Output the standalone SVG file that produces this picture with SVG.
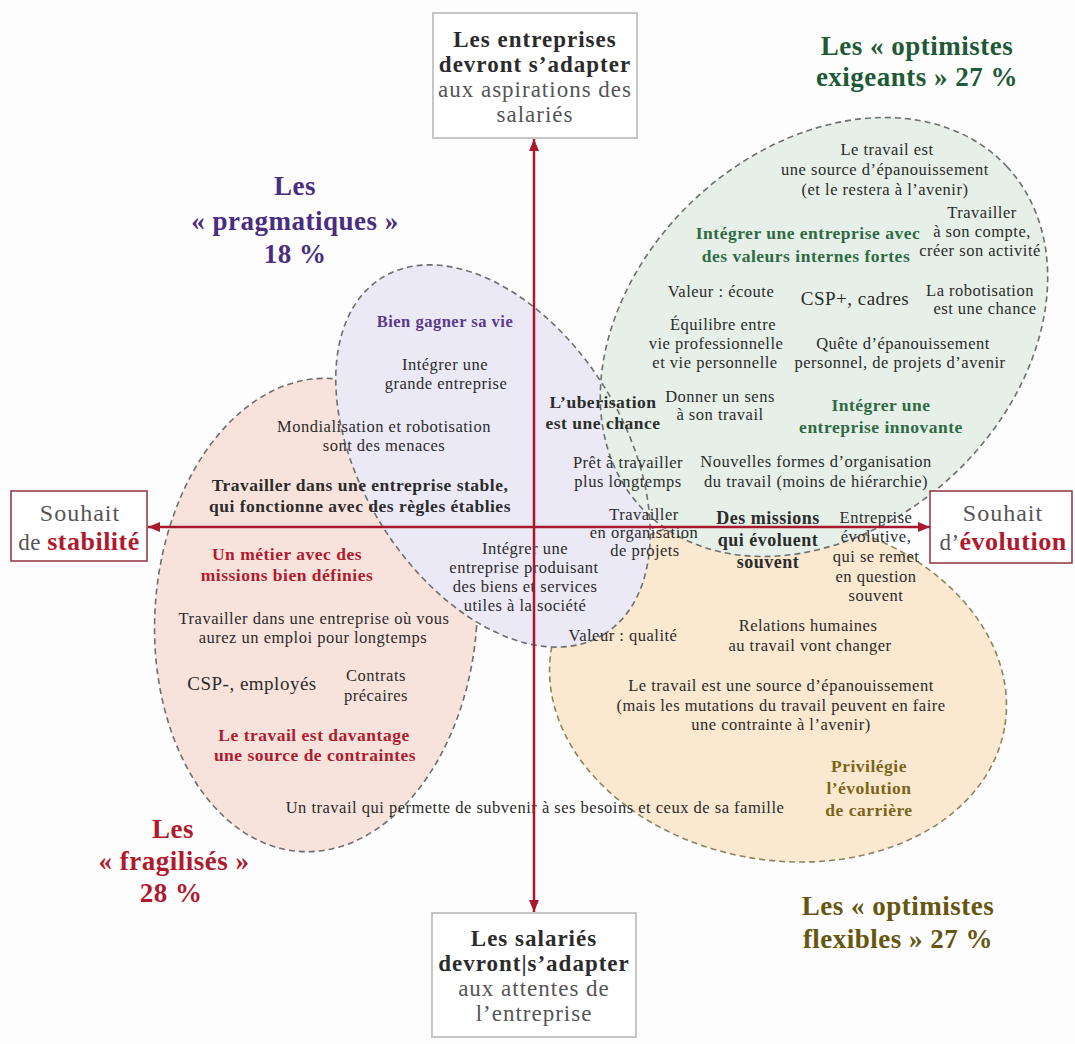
<svg xmlns="http://www.w3.org/2000/svg" width="1075" height="1044" viewBox="0 0 1075 1044">
<defs>
<style>
.t{font-family:"Liberation Serif","Times New Roman",serif;font-size:16.5px;fill:#2b2b2b;text-anchor:middle;letter-spacing:0.5px}
.b{font-weight:bold;font-size:17.5px}
.big{font-weight:bold;font-size:27px}
.bx{font-size:23px;letter-spacing:1px}
.gray{fill:#555}
.g{fill:#2f6a44}
.gt{fill:#1f5a36}
.p{fill:#5a3a8c}
.pt{fill:#4a2d80}
.r{fill:#b01a2e}
.o{fill:#7a6518}
.ot{fill:#66560f}
.dash{stroke:#6e6e6e;stroke-width:1.6;stroke-dasharray:6 4;fill:none}
.box{fill:#fff;stroke:#c6c6c6;stroke-width:2}
.rbox{fill:#fff;stroke:#8e3040;stroke-width:1.5}
.axis{stroke:#a8192e;stroke-width:2.5;fill:none;marker-start:url(#ah);marker-end:url(#ah)}
</style>
<marker id="ah" viewBox="0 0 12 10" refX="12" refY="5" markerWidth="12" markerHeight="10" markerUnits="userSpaceOnUse" orient="auto-start-reverse">
<path d="M0,0 L12,5 L0,10 z" fill="#a8192e"/>
</marker>
</defs>
<rect width="1075" height="1044" fill="#fdfdfd"/>

<g id="regions">
<g id="region-fragilises">
<ellipse cx="316" cy="615" rx="161" ry="237" transform="rotate(4 316 615)" fill="#f8e3dc"/>
<ellipse cx="316" cy="615" rx="161" ry="237" transform="rotate(4 316 615)" class="dash"/>
</g>
<g id="region-flexibles">
<ellipse cx="778" cy="688" rx="230" ry="172" transform="rotate(10 778 688)" fill="#fae8d0"/>
<ellipse cx="778" cy="688" rx="230" ry="172" transform="rotate(10 778 688)" class="dash" style="stroke:#8a8560"/>
</g>
<g id="region-pragmatiques">
<ellipse cx="493" cy="456" rx="210" ry="131" transform="rotate(58 493 456)" fill="#ebe9f6"/>
</g>
<g id="region-exigeants">
<ellipse cx="824" cy="337" rx="250" ry="189" transform="rotate(-43 824 337)" fill="#e6f0e8"/>
</g>
<ellipse cx="493" cy="456" rx="210" ry="131" transform="rotate(58 493 456)" class="dash"/>
<ellipse cx="824" cy="337" rx="250" ry="189" transform="rotate(-43 824 337)" class="dash"/>
</g>

<g id="node-top">
<rect class="box" x="433" y="13" width="204" height="125"/>
<text class="t b bx" x="535" y="47">Les entreprises</text>
<text class="t b bx" x="535" y="72">devront s’adapter</text>
<text class="t bx gray" x="535" y="97" style="font-weight:normal">aux aspirations des</text>
<text class="t bx gray" x="535" y="122">salariés</text>
</g>

<g id="node-bottom">
<rect class="box" x="432" y="913" width="204" height="124"/>
<text class="t b bx" x="534" y="946">Les salariés</text>
<text class="t b bx" x="534" y="971">devront|s’adapter</text>
<text class="t bx gray" x="534" y="996">aux attentes de</text>
<text class="t bx gray" x="534" y="1021">l’entreprise</text>
</g>

<g id="node-left">
<rect class="rbox" x="11" y="491" width="136" height="70"/>
<text class="t gray" x="80" y="521" style="font-size:24px;letter-spacing:1px">Souhait</text>
<text class="t" x="79" y="550"><tspan class="gray" style="font-size:23px">de </tspan><tspan class="r" style="font-size:26px;font-weight:bold">stabilité</tspan></text>
</g>

<g id="node-right">
<rect class="rbox" x="930" y="491" width="142" height="72"/>
<text class="t gray" x="1003" y="521" style="font-size:24px;letter-spacing:1px">Souhait</text>
<text class="t" x="1003" y="550"><tspan class="gray" style="font-size:23px">d’</tspan><tspan class="r" style="font-size:26px;font-weight:bold">évolution</tspan></text>
</g>

<g id="title-exigeants">
<text class="t big gt" x="917" y="55">Les « optimistes</text>
<text class="t big gt" x="917" y="86">exigeants » 27 %</text>
</g>
<g id="title-pragmatiques">
<text class="t big pt" x="295" y="195">Les</text>
<text class="t big pt" x="295" y="230">« pragmatiques »</text>
<text class="t big pt" x="295" y="263">18 %</text>
</g>
<g id="title-fragilises">
<text class="t big r" x="173" y="838">Les</text>
<text class="t big r" x="174" y="870">« fragilisés »</text>
<text class="t big r" x="171" y="902">28 %</text>
</g>
<g id="title-flexibles">
<text class="t big ot" x="898" y="915">Les « optimistes</text>
<text class="t big ot" x="898" y="948">flexibles » 27 %</text>
</g>

<g id="texts-exigeants">
<text class="t" x="887" y="155">Le travail est</text>
<text class="t" x="885" y="175">une source d’épanouissement</text>
<text class="t" x="885" y="195">(et le restera à l’avenir)</text>
<text class="t" x="982" y="218">Travailler</text>
<text class="t" x="982" y="237">à son compte,</text>
<text class="t" x="980" y="256">créer son activité</text>
<text class="t b g" x="808" y="239">Intégrer une entreprise avec</text>
<text class="t b g" x="806" y="262">des valeurs internes fortes</text>
<text class="t" x="721" y="297">Valeur : écoute</text>
<text class="t" x="855" y="305" style="font-size:19px">CSP+, cadres</text>
<text class="t" x="980" y="296">La robotisation</text>
<text class="t" x="985" y="314">est une chance</text>
<text class="t" x="723" y="330">Équilibre entre</text>
<text class="t" x="716" y="349">vie professionnelle</text>
<text class="t" x="715" y="368">et vie personnelle</text>
<text class="t" x="903" y="349">Quête d’épanouissement</text>
<text class="t" x="900" y="368">personnel, de projets d’avenir</text>
<text class="t" x="720" y="402">Donner un sens</text>
<text class="t" x="720" y="420">à son travail</text>
<text class="t b g" x="881" y="411">Intégrer une</text>
<text class="t b g" x="881" y="433">entreprise innovante</text>
<text class="t" x="816" y="467">Nouvelles formes d’organisation</text>
<text class="t" x="816" y="487">du travail (moins de hiérarchie)</text>
</g>

<g id="texts-pragmatiques">
<text class="t b p" x="445" y="327" style="font-size:16.5px">Bien gagner sa vie</text>
<text class="t" x="445" y="370">Intégrer une</text>
<text class="t" x="446" y="389">grande entreprise</text>
<text class="t" x="384" y="432">Mondialisation et robotisation</text>
<text class="t" x="384" y="451">sont des menaces</text>
<text class="t b" x="360" y="491">Travailler dans une entreprise stable,</text>
<text class="t b" x="360" y="512">qui fonctionne avec des règles établies</text>
<text class="t" x="525" y="554">Intégrer une</text>
<text class="t" x="524" y="573">entreprise produisant</text>
<text class="t" x="525" y="592">des biens et services</text>
<text class="t" x="525" y="611">utiles à la société</text>
<text class="t b" x="603" y="408">L’uberisation</text>
<text class="t b" x="603" y="429">est une chance</text>
<text class="t" x="628" y="468">Prêt à travailler</text>
<text class="t" x="628" y="487">plus longtemps</text>
<text class="t" x="644" y="520">Travailler</text>
<text class="t" x="644" y="538">en organisation</text>
<text class="t" x="645" y="556">de projets</text>
<text class="t" x="623" y="641">Valeur : qualité</text>
</g>

<g id="texts-flexibles">
<text class="t b" x="768" y="524" style="font-size:18px">Des missions</text>
<text class="t b" x="768" y="546" style="font-size:18px">qui évoluent</text>
<text class="t b" x="768" y="568" style="font-size:18px">souvent</text>
<text class="t" x="876" y="523">Entreprise</text>
<text class="t" x="876" y="542">évolutive,</text>
<text class="t" x="876" y="562">qui se remet</text>
<text class="t" x="876" y="582">en question</text>
<text class="t" x="876" y="601">souvent</text>
<text class="t" x="808" y="631">Relations humaines</text>
<text class="t" x="810" y="651">au travail vont changer</text>
<text class="t" x="781" y="691">Le travail est une source d’épanouissement</text>
<text class="t" x="781" y="711">(mais les mutations du travail peuvent en faire</text>
<text class="t" x="781" y="730">une contrainte à l’avenir)</text>
<text class="t b o" x="869" y="772">Privilégie</text>
<text class="t b o" x="869" y="794">l’évolution</text>
<text class="t b o" x="869" y="816">de carrière</text>
</g>

<g id="texts-fragilises">
<text class="t b r" x="287" y="560">Un métier avec des</text>
<text class="t b r" x="287" y="581">missions bien définies</text>
<text class="t" x="314" y="624">Travailler dans une entreprise où vous</text>
<text class="t" x="313" y="643">aurez un emploi pour longtemps</text>
<text class="t" x="252" y="690" style="font-size:19px">CSP-, employés</text>
<text class="t" x="376" y="681">Contrats</text>
<text class="t" x="376" y="701">précaires</text>
<text class="t b r" x="314" y="741">Le travail est davantage</text>
<text class="t b r" x="315" y="761">une source de contraintes</text>
<text class="t" x="535" y="813">Un travail qui permette de subvenir à ses besoins et ceux de sa famille</text>
</g>

<g id="connectors">
<line class="axis" x1="534" y1="139" x2="534" y2="912"/>
<line class="axis" x1="148" y1="527" x2="930" y2="527"/>
</g>
</svg>
